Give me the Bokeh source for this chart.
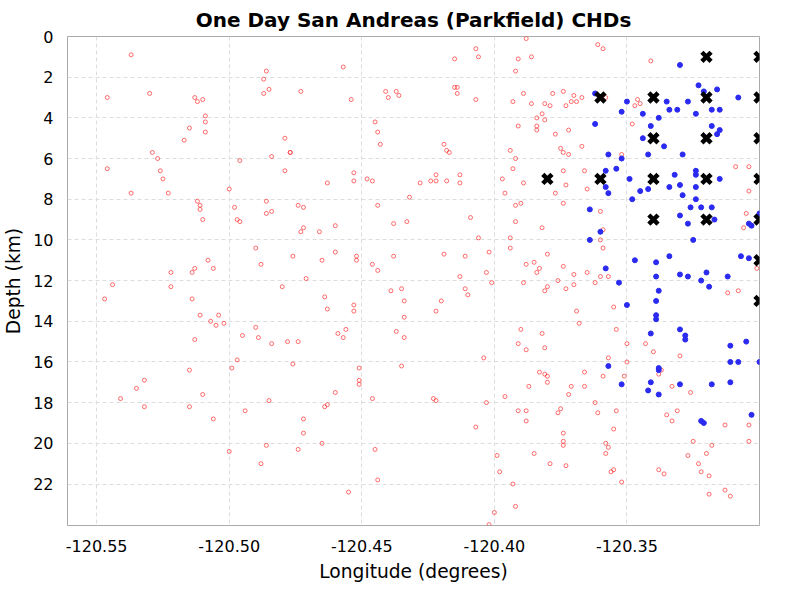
from bokeh.plotting import figure
from bokeh.models import Range1d, FixedTicker, NumeralTickFormatter
from bokeh.embed import file_html
from bokeh.resources import INLINE

# background events (red open circles): longitude, depth
red_lon = [-120.537, -120.546, -120.546, -120.547, -120.544, -120.530, -120.537, -120.529, -120.527, -120.526,
           -120.525, -120.523, -120.522, -120.522, -120.541, -120.535, -120.532, -120.532, -120.517, -120.515,
           -120.513, -120.512, -120.510, -120.509, -120.509, -120.509, -120.512, -120.511, -120.511, -120.510,
           -120.514, -120.513, -120.508, -120.506, -120.514, -120.511, -120.507, -120.505, -120.504, -120.513,
           -120.515, -120.515, -120.510, -120.506, -120.502, -120.500, -120.498, -120.496, -120.497, -120.500,
           -120.499, -120.497, -120.496, -120.494, -120.495, -120.490, -120.489, -120.490, -120.488, -120.488,
           -120.486, -120.484, -120.485, -120.487, -120.486, -120.485, -120.487, -120.484, -120.486, -120.486,
           -120.484, -120.480, -120.479, -120.477, -120.477, -120.479, -120.476, -120.478, -120.476, -120.474,
           -120.474, -120.472, -120.472, -120.473, -120.472, -120.474, -120.472, -120.473, -120.471, -120.466,
           -120.465, -120.463, -120.464, -120.463, -120.460, -120.460, -120.465, -120.464, -120.463, -120.460,
           -120.459, -120.456, -120.457, -120.457, -120.454, -120.453, -120.453, -120.451, -120.451, -120.451,
           -120.455, -120.452, -120.452, -120.453, -120.453, -120.448, -120.446, -120.443, -120.445, -120.444,
           -120.444, -120.446, -120.441, -120.440, -120.437, -120.436, -120.438, -120.438, -120.444, -120.434,
           -120.437, -120.434, -120.439, -120.434, -120.435, -120.435, -120.446, -120.445, -120.444, -120.433,
           -120.432, -120.428, -120.424, -120.422, -120.422, -120.419, -120.418, -120.417, -120.418, -120.413,
           -120.413, -120.415, -120.415, -120.414, -120.414, -120.420, -120.422, -120.423, -120.422, -120.419,
           -120.411, -120.413, -120.411, -120.410, -120.407, -120.406, -120.407, -120.409, -120.406, -120.402,
           -120.403, -120.401, -120.403, -120.407, -120.404, -120.399, -120.398, -120.400, -120.402, -120.397,
           -120.396, -120.394, -120.392, -120.391, -120.393, -120.392, -120.394, -120.394, -120.393, -120.391,
           -120.392, -120.389, -120.389, -120.388, -120.389, -120.390, -120.392, -120.388, -120.386, -120.386,
           -120.384, -120.384, -120.384, -120.381, -120.381, -120.382, -120.384, -120.383, -120.381, -120.380,
           -120.382, -120.380, -120.385, -120.390, -120.391, -120.388, -120.381, -120.396, -120.391, -120.387,
           -120.382, -120.383, -120.381, -120.380, -120.380, -120.393, -120.392, -120.379, -120.385, -120.388,
           -120.388, -120.379, -120.378, -120.374, -120.373, -120.371, -120.370, -120.369, -120.367, -120.377,
           -120.375, -120.374, -120.372, -120.377, -120.374, -120.374, -120.372, -120.367, -120.366, -120.365,
           -120.373, -120.376, -120.374, -120.373, -120.370, -120.370, -120.365, -120.369, -120.368, -120.362,
           -120.360, -120.360, -120.374, -120.374, -120.374, -120.372, -120.371, -120.373, -120.366, -120.366,
           -120.376, -120.375, -120.362, -120.361, -120.358, -120.357, -120.358, -120.359, -120.357, -120.355,
           -120.356, -120.355, -120.354, -120.352, -120.350, -120.351, -120.350, -120.361, -120.359, -120.358,
           -120.359, -120.360, -120.359, -120.357, -120.355, -120.354, -120.343, -120.340, -120.338, -120.337,
           -120.335, -120.338, -120.336, -120.333, -120.331, -120.333, -120.330, -120.326, -120.327, -120.325,
           -120.323, -120.322, -120.319, -120.318, -120.313, -120.320, -120.319, -120.313, -120.311, -120.304,
           -120.304, -120.304, -120.304, -120.341, -120.346, -120.347, -120.345, -120.348, -120.352, -120.309,
           -120.305, -120.301, -120.306, -120.308, -120.312]
red_depth = [0.9, 3.0, 6.5, 12.9, 12.2, 2.8, 7.7, 5.7, 6.0, 6.6,
             7.0, 7.7, 11.6, 12.3, 17.8, 17.3, 18.2, 16.9, 5.1, 4.5,
             3.0, 3.2, 3.1, 4.7, 4.2, 3.9, 8.1, 8.5, 8.3, 9.0,
             11.6, 11.4, 11.0, 11.4, 12.9, 13.7, 14.0, 14.2, 13.7, 14.9,
             16.4, 18.2, 17.6, 18.8, 14.1, 7.5, 8.4, 9.1, 9.0, 20.4,
             16.3, 15.9, 6.1, 18.4, 14.7, 14.3, 14.8, 10.4, 11.2, 21.0,
             20.1, 15.1, 17.9, 2.1, 1.7, 2.6, 2.8, 5.9, 8.7, 8.1,
             8.6, 12.3, 5.0, 5.7, 5.7, 6.6, 10.8, 15.0, 16.1, 15.0,
             20.3, 19.5, 18.8, 2.7, 8.4, 8.3, 9.4, 9.6, 11.9, 9.6,
             11.0, 7.2, 12.8, 13.4, 10.6, 9.3, 20.0, 18.2, 18.1, 17.5,
             14.6, 14.4, 14.8, 1.5, 3.1, 6.7, 7.1, 16.3, 17.1, 16.9,
             22.4, 10.8, 11.0, 13.2, 13.5, 7.0, 7.1, 5.3, 4.2, 4.7,
             8.3, 11.2, 2.7, 3.0, 2.7, 2.9, 9.2, 10.8, 11.5, 14.8,
             14.5, 13.8, 12.5, 13.0, 12.4, 16.2, 17.8, 20.3, 21.8, 9.1,
             7.9, 7.2, 7.1, 7.1, 6.8, 5.3, 5.6, 5.7, 7.1, 6.8,
             7.2, 1.1, 2.5, 2.5, 2.8, 13.0, 13.5, 17.8, 17.9, 10.7,
             10.8, 11.8, 12.4, 12.7, 0.6, 1.0, 3.1, 8.9, 9.9, 10.6,
             11.6, 12.1, 18.0, 19.2, 15.8, 20.6, 21.4, 23.4, 24.0, 7.0,
             7.7, 5.6, 6.0, 4.4, 6.5, 9.1, 9.9, 10.4, 3.2, 1.1,
             1.7, 2.8, 12.1, 11.2, 7.2, 8.2, 8.3, 0.1, 1.0, 3.3,
             4.0, 4.4, 4.6, 4.1, 3.3, 3.8, 11.6, 11.4, 12.5, 12.3,
             9.4, 10.7, 11.1, 14.4, 15.1, 15.4, 15.3, 17.7, 18.4, 17.2,
             14.6, 16.5, 16.6, 17.0, 16.7, 22.0, 23.1, 21.0, 20.5, 18.9,
             18.4, 3.4, 2.8, 2.7, 3.4, 3.2, 2.9, 3.2, 3.0, 4.8,
             5.5, 5.7, 4.6, 7.7, 8.2, 6.6, 5.8, 5.4, 6.6, 7.5,
             7.3, 12.0, 11.3, 12.4, 12.2, 11.7, 11.6, 13.5, 14.1, 12.1,
             11.8, 10.0, 19.9, 20.1, 19.5, 17.6, 17.2, 21.1, 16.5, 17.2,
             18.5, 18.3, 18.0, 18.5, 20.0, 20.2, 20.5, 16.7, 15.8, 21.3,
             21.4, 19.3, 18.4, 21.9, 15.1, 16.7, 16.0, 0.4, 0.6, 3.0,
             9.5, 8.6, 10.4, 11.8, 13.3, 14.4, 15.1, 15.5, 16.6, 16.4,
             18.6, 21.3, 21.5, 18.9, 18.4, 17.2, 15.7, 17.5, 20.6, 19.9,
             21.0, 21.4, 21.6, 20.1, 19.1, 20.5, 22.5, 22.3, 22.6, 19.9,
             19.1, 6.4, 7.6, 1.2, 3.1, 3.4, 3.3, 4.3, 5.8, 6.4,
             8.7, 11.4, 9.4, 12.5, 12.6]

# events in the one-day window (blue filled circles)
blue_lon = [-120.330, -120.323, -120.321, -120.316, -120.308, -120.335, -120.327, -120.334, -120.331, -120.318,
            -120.315, -120.350, -120.352, -120.344, -120.338, -120.324, -120.362, -120.362, -120.341, -120.344,
            -120.318, -120.315, -120.316, -120.336, -120.342, -120.329, -120.357, -120.352, -120.354, -120.358,
            -120.349, -120.332, -120.324, -120.324, -120.315, -120.358, -120.357, -120.345, -120.342, -120.348,
            -120.334, -120.330, -120.329, -120.324, -120.324, -120.326, -120.322, -120.318, -120.330, -120.327,
            -120.317, -120.304, -120.303, -120.300, -120.364, -120.360, -120.364, -120.325, -120.358, -120.353,
            -120.350, -120.347, -120.339, -120.339, -120.338, -120.339, -120.339, -120.339, -120.334, -120.330,
            -120.327, -120.322, -120.320, -120.319, -120.312, -120.307, -120.304, -120.330, -120.328, -120.328,
            -120.341, -120.311, -120.305, -120.311, -120.308, -120.300, -120.357, -120.338, -120.338, -120.352,
            -120.341, -120.330, -120.318, -120.311, -120.342, -120.338, -120.321, -120.322, -120.303]
blue_depth = [1.4, 2.4, 2.7, 2.6, 3.0, 3.2, 3.2, 3.6, 3.6, 3.6,
              3.6, 3.2, 3.7, 3.8, 4.0, 3.8, 2.8, 4.3, 4.4, 5.0,
              4.4, 4.6, 4.8, 5.4, 5.8, 5.8, 5.8, 6.0, 6.5, 6.6,
              7.0, 6.8, 6.6, 6.8, 7.0, 7.4, 7.7, 7.6, 7.5, 8.0,
              7.4, 7.3, 7.8, 7.4, 8.0, 8.4, 8.4, 8.4, 8.8, 9.2,
              9.0, 9.2, 9.3, 8.7, 8.5, 9.6, 10.0, 10.0, 11.4, 12.1,
              13.2, 11.0, 11.1, 11.8, 12.5, 13.0, 13.7, 13.9, 10.8, 11.7,
              11.8, 12.0, 11.6, 12.3, 11.8, 10.8, 10.9, 14.4, 14.7, 14.9,
              14.6, 15.2, 15.0, 16.0, 16.0, 16.0, 16.2, 16.4, 16.3, 17.1,
              17.0, 17.1, 17.1, 17.0, 17.4, 17.6, 19.0, 18.9, 18.6]

# characteristic hypocentres (black crosses)
chd_lon = [-120.38, -120.36, -120.36, -120.34, -120.34, -120.34, -120.34,
           -120.32, -120.32, -120.32, -120.32, -120.32,
           -120.30, -120.30, -120.30, -120.30, -120.30, -120.30, -120.30]
chd_depth = [7, 3, 7, 3, 5, 7, 9,
             1, 3, 5, 7, 9,
             1, 3, 5, 7, 9, 11, 13]

x_ticks = [-120.55, -120.50, -120.45, -120.40, -120.35]
y_ticks = [0, 2, 4, 6, 8, 10, 12, 14, 16, 18, 20, 22]

p = figure(width=784, height=584, output_backend="svg", toolbar_location=None,
           title="One Day San Andreas (Parkfield) CHDs",
           x_range=Range1d(-120.561, -120.300), y_range=Range1d(24.04, 0),
           x_axis_label="Longitude (degrees)", y_axis_label="Depth (km)",
           min_border_left=52, min_border_right=25, min_border_top=29, min_border_bottom=40)

p.title.align = "center"
p.title.text_font = "DejaVu Sans"
p.title.text_font_size = "15pt"
p.title.text_font_style = "bold"
p.title.text_color = "black"

p.scatter(red_lon, red_depth, marker="circle", size=4, fill_color=None,
          line_color="#ff3030", line_alpha=0.7, line_width=1)
p.scatter(blue_lon, blue_depth, marker="circle", size=5, fill_color="#2a2af0",
          line_color="#2a2af0")
p.scatter(chd_lon, chd_depth, marker="x", size=13, line_color="black", line_width=4.5)

p.xaxis.ticker = FixedTicker(ticks=x_ticks)
p.xaxis.formatter = NumeralTickFormatter(format="0.00")
p.yaxis.ticker = FixedTicker(ticks=y_ticks)
for ax in (p.xaxis, p.yaxis):
    ax.axis_label_text_font = "DejaVu Sans"
    ax.axis_label_text_font_size = "14pt"
    ax.axis_label_text_font_style = "normal"
    ax.axis_label_text_color = "black"
    ax.axis_label_standoff = 6
    ax.major_label_text_font = "DejaVu Sans"
    ax.major_label_text_font_size = "12pt"
    ax.major_label_text_color = "black"
    ax.major_label_standoff = 8
    ax.major_tick_line_color = None
    ax.minor_tick_line_color = None
    ax.axis_line_color = None
p.xgrid.grid_line_dash = "4 3"
p.ygrid.grid_line_dash = "4 3"
p.xgrid.grid_line_color = "#dddddd"
p.ygrid.grid_line_color = "#dddddd"
p.outline_line_color = "#aaaaaa"
p.outline_line_alpha = 1.0

open("out.html", "w").write(file_html(p, INLINE))
